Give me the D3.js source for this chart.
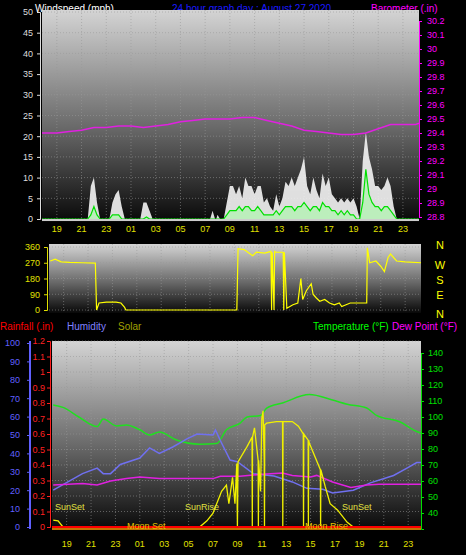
<!DOCTYPE html>
<html><head><meta charset="utf-8">
<script src="https://cdn.jsdelivr.net/npm/d3@7"></script>
<style>body{margin:0;background:#000}svg{display:block;font-family:"Liberation Sans",Arial,sans-serif}</style>
</head><body><svg id="c" width="466" height="555"></svg>
<script>
// ---- data (hours since 00:00 Aug 26; 24 = 00 Aug 27) ----
const hourTicks = [19,21,23,25,27,29,31,33,35,37,39,41,43,45,47];
const windTicks = [0,5,10,15,20,25,30,35,40,45,50];
const baroTicks = [28.8,28.9,29,29.1,29.2,29.3,29.4,29.5,29.6,29.7,29.8,29.9,30,30.1,30.2];
const dirTicks = [0,90,180,270,360];
const compass = ["N","W","S","E","N"];
const humTicks = [0,10,20,30,40,50,60,70,80,90,100];
const rainTicks = [0,0.1,0.2,0.3,0.4,0.5,0.6,0.7,0.8,0.9,1,1.1,1.2];
const tempTicks = [40,50,60,70,80,90,100,110,120,130,140];

const baroHours = [17.8,19,20,21,22,23,24,25,26,27,28,29,30,31,32,33,34,35,36,37,38,39,40,41,42,43,44,45,46,47,48,48.3];
const baroVals  = [29.40,29.40,29.41,29.42,29.44,29.44,29.45,29.45,29.44,29.45,29.46,29.48,29.49,29.50,29.50,29.50,29.51,29.51,29.49,29.47,29.45,29.42,29.41,29.40,29.39,29.39,29.40,29.43,29.46,29.46,29.46,29.47];

const windHours = [17.8,21.5,21.75,22,22.25,22.5,23.25,23.5,23.75,24,24.25,24.5,25.75,26,26.25,26.5,26.75,31.4,31.6,31.8,31.9,32,32.2,32.5,
 32.75,33,33.25,33.5,33.75,34,34.25,34.5,34.75,35,35.25,35.5,35.75,36,36.25,36.5,36.75,37,37.25,37.5,37.75,38,38.25,38.5,38.75,39,39.25,39.5,39.75,40,40.25,40.5,40.75,41,41.25,41.5,41.75,42,42.25,42.5,42.75,43,43.25,43.5,
 43.75,44,44.25,44.5,44.75,45,45.25,45.5,45.75,46,46.25,46.5,46.75,48.3];
const windGust = [0,0,8,10,4,0,0,4,6,7,3,0,0,4,4,2,0,0,2,0,0,1,0,0,
 4,8,8,6,8,5,10,8,8,6,8,8,4,5,3,2,6,3,5,9,8,10,8,10,12,15,8,6,10,7,5,11,8,10,6,5,4,5,4,5,4,5,3,0,
 14,21,15,12,8,8,7,8,10,8,3,0,0,0];
const windAvg = [0,0,1,3,1,0,0,1,1,1,0,0,0,0,0.5,0,0,0,0,0,0,0,0,0,
 1,2,2,2,3,2,3,3,2,2,3,2,1,1,1,1,2,1,2,3,3,3,2,3,3,4,3,2,3,3,2,4,3,3,2,2,1,2,1,2,1,1,0,0,
 4,12,6,4,3,3,2,3,3,2,1,0,0,0];

const dirHours = [17.9,18.3,18.8,19.5,20.5,21.6,21.7,21.9,22.5,23.3,23.7,24.0,24.1,33.2,33.3,33.8,34.5,34.8,35.5,36.0,36.05,36.1,36.25,36.3,36.4,37.0,37.05,37.1,37.3,37.8,38.2,38.45,38.6,38.9,39.3,39.45,39.7,40.0,40.4,40.8,41.2,41.6,41.8,42.5,43.4,43.85,43.9,44.1,44.6,45.0,45.3,45.6,45.8,46.3,47.0,48.3];
const dirVals  = [280,290,275,272,270,268,0,40,45,45,40,15,0,0,350,345,310,330,325,335,0,330,0,335,330,330,0,330,10,30,40,180,60,110,150,90,70,50,60,40,30,40,20,40,40,40,355,270,280,250,220,300,320,280,275,270];

const tempHours = [17.9,18.7,20,21.5,22,23.1,23.9,25,25.8,26.6,28,29.9,31.3,32.1,33.2,33.8,34.9,35.4,36.7,38.9,40.8,42,43.6,44.4,46.3,47.8,48.05];
const tempVals  = [107.5,106,100,94,98.7,94.4,95,92,88.8,90.6,85.6,83,83.4,92,96,100,101,105.6,108.8,114,110.6,108,105.6,101,97,90.6,90];
const humHours = [17.9,20.3,21.5,22,22.6,23.4,25,25.8,26.6,27.7,28.9,29.7,31,31.2,31.6,32.4,33,34.3,36,37.5,38.7,40,40.8,42.5,43.9,45.8,46.9,47.7,48.05];
const humVals  = [20,29,32,29,29,34,37.5,43,40,43.5,48,50.5,50,52.7,47,36.4,35.5,29,27.7,24.5,21,20.5,18.5,20,24,28,32,35,35];
const dewHours = [17.9,20.3,21.5,22.6,23.9,25,26.6,28.9,31,31.6,33.2,35.4,36.7,37.5,39,39.5,40.8,42.3,43.6,44.6,46,48.05];
const dewVals  = [57.5,58.5,57.5,60,61.5,62.5,61.5,61.5,61.5,63,63,64.4,65,63.5,62.5,63.5,59.4,56,57.5,58,58,58];
const solarHours = [17.9,18.3,18.7,29.9,30.5,31,31.7,32.1,32.3,32.6,32.8,32.95,33.0,33.05,33.8,34.2,34.22,34.24,34.4,34.7,34.72,34.74,34.9,35.0,35.1,35.2,35.22,35.24,35.4,36.2,36.7,36.72,36.74,37.5,38.0,38.4,38.42,38.44,38.8,38.82,38.84,38.9,39.8,39.82,39.84,40.2,40.6,41.2,42,42.5,48.05];
const solarVals  = [0.045,0.04,0,0,0.04,0.09,0.23,0.27,0.15,0.32,0.15,0.41,0,0.42,0.52,0.58,0,0.58,0.64,0.43,0,0.43,0.23,0.7,0.75,0.42,0,0.66,0.67,0.68,0.68,0,0.68,0.68,0.65,0.6,0,0.6,0.56,0,0.56,0.54,0.37,0,0.37,0.26,0.15,0.11,0.03,0,0];

// ---- drawing ----
const svg = d3.select("#c");
svg.append("rect").attr("width",466).attr("height",555).attr("fill","#000");
const defs = svg.append("defs");
const g = defs.append("linearGradient").attr("id","bg").attr("x1",0).attr("x2",0).attr("y1",0).attr("y2",1);
g.append("stop").attr("offset","0%").attr("stop-color","#d4d4d4");
g.append("stop").attr("offset","55%").attr("stop-color","#6a6a6a");
g.append("stop").attr("offset","100%").attr("stop-color","#080808");
const hl = h => String(h%24).padStart(2,"0");
function txt(x,y,s,c,anchor,size){svg.append("text").attr("x",x).attr("y",y).text(s).attr("fill",c).attr("font-size",size||10).attr("text-anchor",anchor||"start");}

function panel(x0,x1,y0,y1,xs,ys,yt){
  svg.append("rect").attr("x",x0).attr("y",y0).attr("width",x1-x0).attr("height",y1-y0).attr("fill","url(#bg)");
  const gr = svg.append("g").attr("stroke","#9a9a9a").attr("stroke-width",0.7).attr("stroke-dasharray","1,2").attr("opacity",0.8);
  hourTicks.forEach(h=>gr.append("line").attr("x1",xs(h)).attr("x2",xs(h)).attr("y1",y0).attr("y2",y1));
  yt.forEach(v=>gr.append("line").attr("x1",x0).attr("x2",x1).attr("y1",ys(v)).attr("y2",ys(v)));
}
function xlabels(xs,y){hourTicks.forEach(h=>txt(xs(h),y,hl(h),"#e0e000","middle",9));}
function leftAxis(x,ys,ticks,col,fmt,labelX,ext){
  const a = svg.append("g").attr("transform",`translate(${x},0)`).call(d3.axisLeft(ys).tickValues(ticks).tickSize(3).tickFormat(fmt));
  a.selectAll("path,line").attr("stroke",col);
  a.selectAll("text").attr("fill",col).attr("font-size",9).attr("font-family","Liberation Sans, Arial").attr("x",labelX-x);
}
// Titles
txt(35,12,"Windspeed (mph)","#fff");
txt(172,12,"24 hour graph day : August 27 2020","#1a1aff");
txt(371,12,"Barometer (.in)","#ff00ff");

// Top panel
const xT = d3.scaleLinear().domain([17.8,48.3]).range([42,419]);
const yW = d3.scaleLinear().domain([0,50]).range([219,12]);
const yB = d3.scaleLinear().domain([28.8,30.2]).range([217,21]);
panel(42,419,10,222,xT,yW,windTicks);
leftAxis(40,yW,windTicks,"#ddd",d=>d,33);
const ra = svg.append("g").attr("transform","translate(419,0)").call(d3.axisRight(yB).tickValues(baroTicks).tickSize(3).tickFormat(d=>+d.toFixed(1)));
ra.selectAll("path,line").attr("stroke","#ff00ff");
ra.selectAll("text").attr("fill","#ff00ff").attr("font-size",9).attr("x",8);
const wi = windHours.map((h,i)=>i);
svg.append("path").datum(wi).attr("fill","#f4f4f4").attr("opacity",0.9)
  .attr("d",d3.area().x(i=>xT(windHours[i])).y0(yW(0)).y1(i=>yW(windGust[i])));
svg.append("path").datum(wi).attr("fill","#b8f0b8").attr("opacity",0.9)
  .attr("d",d3.area().x(i=>xT(windHours[i])).y0(yW(0)).y1(i=>yW(windAvg[i])));
svg.append("path").datum(wi).attr("fill","none").attr("stroke","#00e000").attr("stroke-width",1.2)
  .attr("d",d3.line().x(i=>xT(windHours[i])).y(i=>yW(windAvg[i])));
svg.append("line").attr("x1",42).attr("x2",419).attr("y1",yW(0)+1).attr("y2",yW(0)+1).attr("stroke","#ccc").attr("stroke-width",2);
svg.append("path").datum(baroHours.map((h,i)=>i)).attr("fill","none").attr("stroke","#e020e0").attr("stroke-width",1.5)
  .attr("d",d3.line().x(i=>xT(baroHours[i])).y(i=>yB(baroVals[i])));
xlabels(xT,232);

// Middle panel
const xM = d3.scaleLinear().domain([17.8,48.3]).range([49,421]);
const yD = d3.scaleLinear().domain([0,360]).range([310,247]);
panel(49,421,244,313,xM,yD,dirTicks);
leftAxis(47,yD,dirTicks,"#e0e000",d=>d,40);
svg.append("path").datum(dirHours.map((h,i)=>i)).attr("fill","none").attr("stroke","#ffff00").attr("stroke-width",1.2)
  .attr("d",d3.line().x(i=>xM(dirHours[i])).y(i=>yD(dirVals[i])));
compass.forEach((c,i)=>txt(440,yD(dirTicks[4-i])+[2,6,5,5,8][i],compass[i],"#ffff00","middle",11));

// Legend
txt(0,330,"Rainfall (.in)","#ff0000");
txt(67,330,"Humidity","#8080ff");
txt(118,330,"Solar","#a0a000");
txt(313,330,"Temperature (°F)","#00ff00");
txt(392,330,"Dew Point (°F)","#ff00ff");

// Bottom panel
const xB = d3.scaleLinear().domain([17.8,48.05]).range([52,421]);
const yH = d3.scaleLinear().domain([0,100]).range([527,343]);
const yR = d3.scaleLinear().domain([0,1.2]).range([527,341]);
const yTm = d3.scaleLinear().domain([30,140]).range([529,353]);
panel(52,421,341,530,xB,yR,rainTicks);
leftAxis(30,yH,humTicks,"#6060ff",d=>d,20);
leftAxis(50,yR,rainTicks,"#ff2020",d=>+d.toFixed(1),45);
svg.append("line").attr("x1",30).attr("x2",30).attr("y1",341).attr("y2",529).attr("stroke","#6060ff").attr("stroke-width",2);
const ta = svg.append("g").attr("transform","translate(421,0)").call(d3.axisRight(yTm).tickValues(tempTicks).tickSize(3));
ta.selectAll("path,line").attr("stroke","#00e000");
ta.selectAll("text").attr("fill","#00e000").attr("font-size",9).attr("x",7);
const line = (xs,ys,H,V)=>d3.line().x(i=>xs(H[i])).y(i=>ys(V[i]));
svg.append("path").datum(tempHours.map((h,i)=>i)).attr("fill","none").attr("stroke","#20e020").attr("stroke-width",1.5).attr("d",line(xB,yTm,tempHours,tempVals).curve(d3.curveMonotoneX));
svg.append("path").datum(humHours.map((h,i)=>i)).attr("fill","none").attr("stroke","#7070f0").attr("stroke-width",1.5).attr("d",line(xB,yH,humHours,humVals));
svg.append("path").datum(dewHours.map((h,i)=>i)).attr("fill","none").attr("stroke","#e020e0").attr("stroke-width",1.5).attr("d",line(xB,yTm,dewHours,dewVals));
svg.append("path").datum(solarHours.map((h,i)=>i)).attr("fill","none").attr("stroke","#f0f000").attr("stroke-width",1.3).attr("d",line(xB,yR,solarHours,solarVals));
svg.append("line").attr("x1",52).attr("x2",421).attr("y1",yR(0)).attr("y2",yR(0)).attr("stroke","#ff0000").attr("stroke-width",2);
svg.append("line").attr("x1",52).attr("x2",421).attr("y1",yR(0)+2).attr("y2",yR(0)+2).attr("stroke","#ff9900").attr("stroke-width",1.5);
txt(55,510,"SunSet","#e0e040","start",9);
txt(185,510,"SunRise","#e0e040","start",9);
txt(342,510,"SunSet","#e0e040","start",9);
txt(127,529,"Moon Set","#e0c000","start",9);
txt(305,529,"Moon Rise","#e0c000","start",9);
xlabels(xB,547);
</script></body></html>
